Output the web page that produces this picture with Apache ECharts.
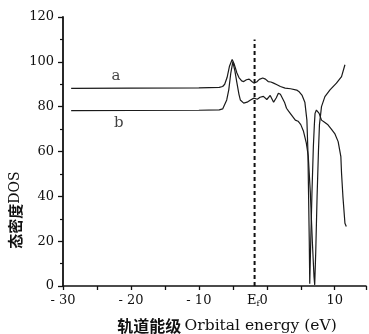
<!DOCTYPE html>
<html>
<head>
<meta charset="utf-8">
<script src="https://cdn.jsdelivr.net/npm/echarts@6/dist/echarts.min.js"></script>
<style>
html,body{margin:0;padding:0;background:#fff;}
#c{width:369px;height:334px;}
</style>
</head>
<body>
<div id="c"></div>
<script>
// ---- data ----
const curveAX = [-28.8,-20,-10,-7,-6.5,-6.2,-5.85,-5.5,-5.1,-4.8,-4.4,-4.1,-3.7,-3.4,-3.0,-2.6,-2.2,-1.9,-1.5,-1.1,-0.6,-0.2,0.2,0.6,1.0,1.5,2.0,2.7,3.5,4.4,4.8,5.2,5.6,5.9,6.05,6.15,6.25,6.32,6.45,6.65,6.85,7.0,7.1,7.3,7.47,7.7,8.05,8.5,9.0,9.5,10.0,10.5,10.9,11.0,11.2,11.5,11.7];
const curveAY = [88.2,88.3,88.4,88.6,89,90,93,98,101,99,95,93,91.5,91.2,92,92.3,91.2,90.5,91,92.2,92.8,92.3,91.2,91,90.5,89.8,89,88.3,88,87.4,86.5,85,82,74,60,40,20,1,18,42,62,72,77,78.5,79,77,74,73,71.9,70,68,64.4,57.7,50.3,40,28,26.5];
const curveBX = [-28.8,-20,-10,-7,-6.5,-6.3,-5.9,-5.6,-5.3,-5.0,-4.7,-4.4,-4.1,-3.9,-3.4,-2.9,-2.4,-1.9,-1.4,-1.0,-0.5,0,0.5,1.0,1.4,1.7,2.0,2.2,2.6,2.9,3.2,3.7,4.2,4.6,5.0,5.4,5.8,6.1,6.4,6.7,6.95,7.05,7.2,7.4,7.6,7.75,8.05,8.55,9.3,10.25,11.0,11.5];
const curveBY = [78.2,78.3,78.4,78.6,79,79.5,83,87.5,95,100,96,90.6,85.5,83,81.6,82,83,83.8,83.3,84.2,84.6,83.2,85,82,84,86,85.5,85,82,79.3,78,76,74,73.5,72,69,64,58,42,20,4,0.5,15,40,60,72,80,84.5,87.5,90.5,93.4,98.7];
const fermiX = -1.8;           // dashed Fermi level line
const fermiTop = 110;
const curveLabels = ['a','b'];
const curveLabelX = [-22.2,-21.8];
const curveLabelY = [93.8,72.5];
const xTicks = [-30,-20,-10,0,10];
const yTicks = [0,20,40,60,80,100,120];
const yName = '态密度';
const yNameEn = 'DOS';
const xName = '轨道能级';
const xNameEn = 'Orbital energy (eV)';

const zip = (xs, ys) => xs.map((x,i)=>[x, ys[i]]);
const serif = '"DejaVu Serif","Liberation Serif",serif';
const cjk = '"Noto Sans CJK SC",sans-serif';

const chart = echarts.init(document.getElementById('c'), null, {renderer:'canvas'});
chart.setOption({
  animation:false,
  backgroundColor:'#fff',
  grid:{left:63, right:0, top:17, bottom:48},
  xAxis:{
    type:'value', min:-30, max:14.6, interval:10,
    axisLine:{onZero:false, lineStyle:{color:'#111', width:1.5}},
    axisTick:{show:true, length:4, lineStyle:{color:'#111', width:1.3}},
    minorTick:{show:true, splitNumber:2, length:4, lineStyle:{color:'#111', width:1.3}},
    splitLine:{show:false},
    axisLabel:{
      color:'#111', fontFamily:serif, fontSize:13, margin:8,
      formatter:v => {
        if (!xTicks.includes(v)) return '';
        if (v === 0) return '{e|E}{f|f}0{p|}';
        return (v < 0 ? '- ' + Math.abs(v) : String(v));
      },
      rich:{
        e:{fontFamily:serif, fontSize:13, color:'#111'},
        f:{fontFamily:serif, fontSize:8, color:'#111', verticalAlign:'bottom', padding:[6,0,0,0]},
        p:{width:19}
      }
    }
  },
  yAxis:{
    type:'value', min:0, max:120, interval:20,
    axisLine:{show:true, onZero:false, lineStyle:{color:'#111', width:1.8}},
    axisTick:{show:true, length:5, lineStyle:{color:'#111', width:1.3}},
    minorTick:{show:true, splitNumber:2, length:3, lineStyle:{color:'#111', width:1.2}},
    splitLine:{show:false},
    axisLabel:{color:'#111', fontFamily:serif, fontSize:13, margin:9,
      formatter:v => yTicks.includes(v) ? String(v) : ''}
  },
  series:[
    {type:'line', data:zip(curveAX, curveAY), showSymbol:false, symbol:'none',
     lineStyle:{color:'#1a1a1a', width:1.2}},
    {type:'line', data:zip(curveBX, curveBY), showSymbol:false, symbol:'none',
     lineStyle:{color:'#1a1a1a', width:1.2}},
    {type:'line', data:[[fermiX,0],[fermiX,fermiTop]], showSymbol:false, symbol:'none',
     lineStyle:{color:'#111', width:2, type:[4,3]}},
    {type:'scatter', symbolSize:0,
     data:curveLabels.map((t,i)=>[curveLabelX[i], curveLabelY[i], t]),
     label:{show:true, position:'inside', formatter:p=>p.value[2],
       fontFamily:serif, fontSize:15, color:'#111'}}
  ],
  graphic:[
    {type:'text', x:15, y:210, rotation:Math.PI/2,
     style:{text:'{c|'+yName+'}{e|'+yNameEn+'}', align:'center', verticalAlign:'middle',
       rich:{c:{fontFamily:cjk, fontWeight:'bold', fontSize:15, fill:'#111'},
             e:{fontFamily:serif, fontSize:14, fill:'#111'}}}},
    {type:'text', x:227, y:326,
     style:{text:'{c|'+xName+'} {e|'+xNameEn+'}', align:'center', verticalAlign:'middle',
       rich:{c:{fontFamily:cjk, fontWeight:'bold', fontSize:16, fill:'#111'},
             e:{fontFamily:serif, fontSize:15.5, fill:'#111'}}}}
  ]
});
</script>
</body>
</html>
